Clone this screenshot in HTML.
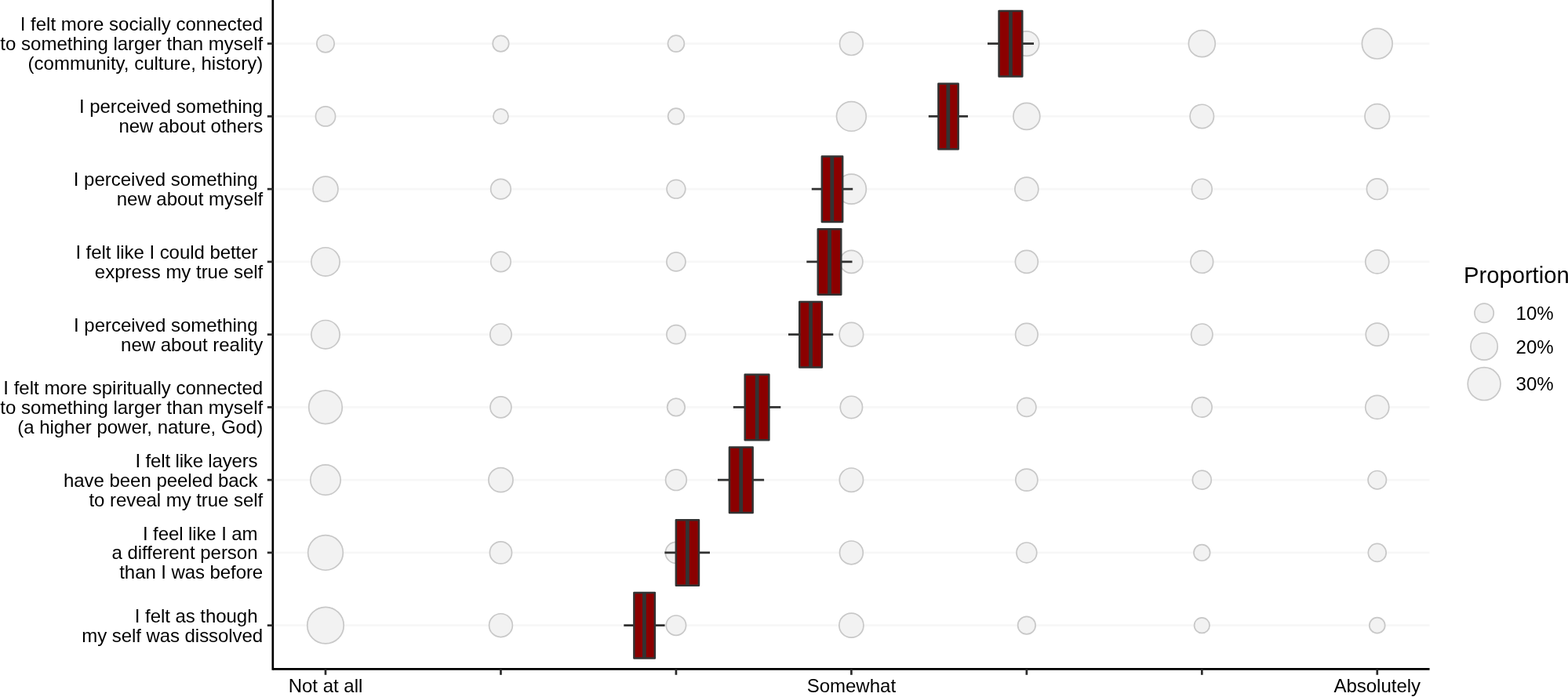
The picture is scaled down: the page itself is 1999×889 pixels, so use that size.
<!DOCTYPE html>
<html lang="en"><head><meta charset="utf-8"><title>Proportion of responses by item</title>
<style>
html,body{margin:0;padding:0;background:#fff;}
body{width:1999px;height:889px;overflow:hidden;}
svg{display:block;}
text{font-family:"Liberation Sans",Arial,Helvetica,sans-serif;fill:#000;}
.yl{font-size:24px;text-anchor:end;}
.xl{font-size:24px;text-anchor:middle;}
.ll{font-size:24px;}
.lt{font-size:29.2px;}
.g{stroke:#f7f7f7;stroke-width:2.6;}
.c{fill:#f2f2f2;stroke:#c8c8c8;stroke-width:1.7;}
.w{stroke:#313131;stroke-width:2.8;}
.b{fill:#8b0000;stroke:#333;stroke-width:2.5;stroke-linejoin:round;}
.m{stroke:#333;stroke-width:4.8;}
.t{stroke:#2c2c2c;stroke-width:2.7;}
.a{stroke:#000;stroke-width:2.8;fill:none;}
</style></head><body>
<svg width="1999" height="889" viewBox="0 0 1999 889" role="img" aria-label="Proportion of responses per item">
<rect width="1999" height="889" fill="#fff"/>
<g>
<line class="g" x1="350.70" x2="1822.55" y1="55.65" y2="55.65"/>
<line class="g" x1="350.70" x2="1822.55" y1="148.40" y2="148.40"/>
<line class="g" x1="350.70" x2="1822.55" y1="241.15" y2="241.15"/>
<line class="g" x1="350.70" x2="1822.55" y1="333.90" y2="333.90"/>
<line class="g" x1="350.70" x2="1822.55" y1="426.65" y2="426.65"/>
<line class="g" x1="350.70" x2="1822.55" y1="519.40" y2="519.40"/>
<line class="g" x1="350.70" x2="1822.55" y1="612.15" y2="612.15"/>
<line class="g" x1="350.70" x2="1822.55" y1="704.90" y2="704.90"/>
<line class="g" x1="350.70" x2="1822.55" y1="797.65" y2="797.65"/>
</g>
<g>
<circle class="c" cx="415.00" cy="55.65" r="11.17"/>
<circle class="c" cx="638.46" cy="55.65" r="10.27"/>
<circle class="c" cx="861.92" cy="55.65" r="10.47"/>
<circle class="c" cx="1085.38" cy="55.65" r="14.87"/>
<circle class="c" cx="1308.84" cy="55.65" r="15.82"/>
<circle class="c" cx="1532.30" cy="55.65" r="16.97"/>
<circle class="c" cx="1755.76" cy="55.65" r="19.37"/>
<circle class="c" cx="415.00" cy="148.40" r="12.57"/>
<circle class="c" cx="638.46" cy="148.40" r="9.57"/>
<circle class="c" cx="861.92" cy="148.40" r="10.27"/>
<circle class="c" cx="1085.38" cy="148.40" r="18.87"/>
<circle class="c" cx="1308.84" cy="148.40" r="16.97"/>
<circle class="c" cx="1532.30" cy="148.40" r="15.17"/>
<circle class="c" cx="1755.76" cy="148.40" r="15.77"/>
<circle class="c" cx="415.00" cy="241.15" r="15.95"/>
<circle class="c" cx="638.46" cy="241.15" r="12.80"/>
<circle class="c" cx="861.92" cy="241.15" r="11.85"/>
<circle class="c" cx="1085.38" cy="241.15" r="18.95"/>
<circle class="c" cx="1308.84" cy="241.15" r="15.00"/>
<circle class="c" cx="1532.30" cy="241.15" r="12.90"/>
<circle class="c" cx="1755.76" cy="241.15" r="13.35"/>
<circle class="c" cx="415.00" cy="333.90" r="18.15"/>
<circle class="c" cx="638.46" cy="333.90" r="12.70"/>
<circle class="c" cx="861.92" cy="333.90" r="12.05"/>
<circle class="c" cx="1085.38" cy="333.90" r="14.55"/>
<circle class="c" cx="1308.84" cy="333.90" r="14.45"/>
<circle class="c" cx="1532.30" cy="333.90" r="14.35"/>
<circle class="c" cx="1755.76" cy="333.90" r="15.00"/>
<circle class="c" cx="415.00" cy="426.65" r="18.15"/>
<circle class="c" cx="638.46" cy="426.65" r="13.65"/>
<circle class="c" cx="861.92" cy="426.65" r="12.05"/>
<circle class="c" cx="1085.38" cy="426.65" r="15.25"/>
<circle class="c" cx="1308.84" cy="426.65" r="14.25"/>
<circle class="c" cx="1532.30" cy="426.65" r="13.65"/>
<circle class="c" cx="1755.76" cy="426.65" r="14.55"/>
<circle class="c" cx="415.00" cy="519.40" r="21.30"/>
<circle class="c" cx="638.46" cy="519.40" r="13.45"/>
<circle class="c" cx="861.92" cy="519.40" r="11.25"/>
<circle class="c" cx="1085.38" cy="519.40" r="14.15"/>
<circle class="c" cx="1308.84" cy="519.40" r="12.05"/>
<circle class="c" cx="1532.30" cy="519.40" r="12.80"/>
<circle class="c" cx="1755.76" cy="519.40" r="15.00"/>
<circle class="c" cx="415.00" cy="612.15" r="19.20"/>
<circle class="c" cx="638.46" cy="612.15" r="15.55"/>
<circle class="c" cx="861.92" cy="612.15" r="13.35"/>
<circle class="c" cx="1085.38" cy="612.15" r="15.15"/>
<circle class="c" cx="1308.84" cy="612.15" r="14.05"/>
<circle class="c" cx="1532.30" cy="612.15" r="11.95"/>
<circle class="c" cx="1755.76" cy="612.15" r="11.65"/>
<circle class="c" cx="415.00" cy="704.90" r="22.35"/>
<circle class="c" cx="638.46" cy="704.90" r="14.05"/>
<circle class="c" cx="861.92" cy="704.90" r="13.55"/>
<circle class="c" cx="1085.38" cy="704.90" r="14.90"/>
<circle class="c" cx="1308.84" cy="704.90" r="12.90"/>
<circle class="c" cx="1532.30" cy="704.90" r="10.35"/>
<circle class="c" cx="1755.76" cy="704.90" r="11.45"/>
<circle class="c" cx="415.00" cy="797.65" r="23.25"/>
<circle class="c" cx="638.46" cy="797.65" r="14.90"/>
<circle class="c" cx="861.92" cy="797.65" r="12.65"/>
<circle class="c" cx="1085.38" cy="797.65" r="15.55"/>
<circle class="c" cx="1308.84" cy="797.65" r="11.25"/>
<circle class="c" cx="1532.30" cy="797.65" r="9.75"/>
<circle class="c" cx="1755.76" cy="797.65" r="9.95"/>
</g>
<g>
<line class="w" x1="1259.00" x2="1318.00" y1="55.65" y2="55.65"/>
<line class="w" x1="1183.80" x2="1234.00" y1="148.40" y2="148.40"/>
<line class="w" x1="1034.80" x2="1087.20" y1="241.15" y2="241.15"/>
<line class="w" x1="1028.30" x2="1086.50" y1="333.90" y2="333.90"/>
<line class="w" x1="1005.00" x2="1062.30" y1="426.65" y2="426.65"/>
<line class="w" x1="934.80" x2="995.30" y1="519.40" y2="519.40"/>
<line class="w" x1="915.00" x2="974.10" y1="612.15" y2="612.15"/>
<line class="w" x1="847.40" x2="905.00" y1="704.90" y2="704.90"/>
<line class="w" x1="795.30" x2="847.60" y1="797.65" y2="797.65"/>
</g>
<g>
<rect class="b" x="1273.55" y="13.91" width="29.70" height="83.48"/>
<line class="m" x1="1288.40" x2="1288.40" y1="13.91" y2="97.39"/>
<rect class="b" x="1196.35" y="106.66" width="25.30" height="83.48"/>
<line class="m" x1="1208.80" x2="1208.80" y1="106.66" y2="190.14"/>
<rect class="b" x="1047.85" y="199.41" width="26.30" height="83.47"/>
<line class="m" x1="1060.80" x2="1060.80" y1="199.41" y2="282.89"/>
<rect class="b" x="1042.75" y="292.16" width="29.50" height="83.48"/>
<line class="m" x1="1057.50" x2="1057.50" y1="292.16" y2="375.64"/>
<rect class="b" x="1019.25" y="384.91" width="28.60" height="83.48"/>
<line class="m" x1="1033.50" x2="1033.50" y1="384.91" y2="468.39"/>
<rect class="b" x="949.70" y="477.66" width="30.65" height="83.47"/>
<line class="m" x1="965.20" x2="965.20" y1="477.66" y2="561.14"/>
<rect class="b" x="929.95" y="570.41" width="29.70" height="83.47"/>
<line class="m" x1="944.70" x2="944.70" y1="570.41" y2="653.89"/>
<rect class="b" x="861.85" y="663.16" width="29.10" height="83.47"/>
<line class="m" x1="876.40" x2="876.40" y1="663.16" y2="746.64"/>
<rect class="b" x="808.35" y="755.91" width="26.50" height="83.47"/>
<line class="m" x1="821.40" x2="821.40" y1="755.91" y2="839.39"/>
</g>
<line class="a" style="stroke-width:2.7" x1="347.80" x2="347.80" y1="-2.00" y2="854.70"/>
<line class="a" x1="348.00" x2="1822.55" y1="853.30" y2="853.30"/>
<g>
<line class="t" x1="340.80" x2="347.80" y1="55.65" y2="55.65"/>
<line class="t" x1="340.80" x2="347.80" y1="148.40" y2="148.40"/>
<line class="t" x1="340.80" x2="347.80" y1="241.15" y2="241.15"/>
<line class="t" x1="340.80" x2="347.80" y1="333.90" y2="333.90"/>
<line class="t" x1="340.80" x2="347.80" y1="426.65" y2="426.65"/>
<line class="t" x1="340.80" x2="347.80" y1="519.40" y2="519.40"/>
<line class="t" x1="340.80" x2="347.80" y1="612.15" y2="612.15"/>
<line class="t" x1="340.80" x2="347.80" y1="704.90" y2="704.90"/>
<line class="t" x1="340.80" x2="347.80" y1="797.65" y2="797.65"/>
<line class="t" x1="415.00" x2="415.00" y1="853.30" y2="860.80"/>
<line class="t" x1="638.46" x2="638.46" y1="853.30" y2="860.80"/>
<line class="t" x1="861.92" x2="861.92" y1="853.30" y2="860.80"/>
<line class="t" x1="1085.38" x2="1085.38" y1="853.30" y2="860.80"/>
<line class="t" x1="1308.84" x2="1308.84" y1="853.30" y2="860.80"/>
<line class="t" x1="1532.30" x2="1532.30" y1="853.30" y2="860.80"/>
<line class="t" x1="1755.76" x2="1755.76" y1="853.30" y2="860.80"/>
</g>
<g>
<text class="yl" x="335.20" y="39">I felt more socially connected</text>
<text class="yl" x="335.20" y="64">to something larger than myself</text>
<text class="yl" x="335.20" y="89">(community, culture, history)</text>
<text class="yl" x="335.20" y="144" textLength="234.30" lengthAdjust="spacing">I perceived something</text>
<text class="yl" x="335.20" y="169" textLength="183.82" lengthAdjust="spacing">new about others</text>
<text class="yl" x="328.53" y="237">I perceived something</text>
<text class="yl" x="335.20" y="262" textLength="186.47" lengthAdjust="spacing">new about myself</text>
<text class="yl" x="328.53" y="330" textLength="232.15" lengthAdjust="spacing">I felt like I could better</text>
<text class="yl" x="335.20" y="355" textLength="214.33" lengthAdjust="spacing">express my true self</text>
<text class="yl" x="328.53" y="423" textLength="234.50" lengthAdjust="spacing">I perceived something</text>
<text class="yl" x="335.20" y="448" textLength="181.15" lengthAdjust="spacing">new about reality</text>
<text class="yl" x="335.20" y="503">I felt more spiritually connected</text>
<text class="yl" x="335.20" y="528">to something larger than myself</text>
<text class="yl" x="335.20" y="553" textLength="313.02" lengthAdjust="spacing">(a higher power, nature, God)</text>
<text class="yl" x="328.53" y="596" textLength="155.92" lengthAdjust="spacing">I felt like layers</text>
<text class="yl" x="328.53" y="621" textLength="247.60" lengthAdjust="spacing">have been peeled back</text>
<text class="yl" x="335.20" y="646" textLength="221.75" lengthAdjust="spacing">to reveal my true self</text>
<text class="yl" x="328.53" y="689" textLength="146.56" lengthAdjust="spacing">I feel like I am</text>
<text class="yl" x="328.53" y="713" textLength="186.06" lengthAdjust="spacing">a different person</text>
<text class="yl" x="335.20" y="738" textLength="182.93" lengthAdjust="spacing">than I was before</text>
<text class="yl" x="328.53" y="794" textLength="156.75" lengthAdjust="spacing">I felt as though</text>
<text class="yl" x="335.20" y="819" textLength="230.98" lengthAdjust="spacing">my self was dissolved</text>
</g>
<g>
<text class="xl" x="415.00" y="883.30">Not at all</text>
<text class="xl" x="1085.38" y="883.30">Somewhat</text>
<text class="xl" x="1755.76" y="883.30">Absolutely</text>
</g>
<g>
<text class="lt" x="1866.0" y="361.4">Proportion</text>
<circle class="c" cx="1892.1" cy="399.30" r="12.15"/>
<text class="ll" x="1932.6" y="408.00">10%</text>
<circle class="c" cx="1892.1" cy="441.90" r="17.15"/>
<text class="ll" x="1932.6" y="451.00">20%</text>
<circle class="c" cx="1892.1" cy="489.60" r="20.90"/>
<text class="ll" x="1932.6" y="498.20">30%</text>
</g>
</svg>
</body></html>
